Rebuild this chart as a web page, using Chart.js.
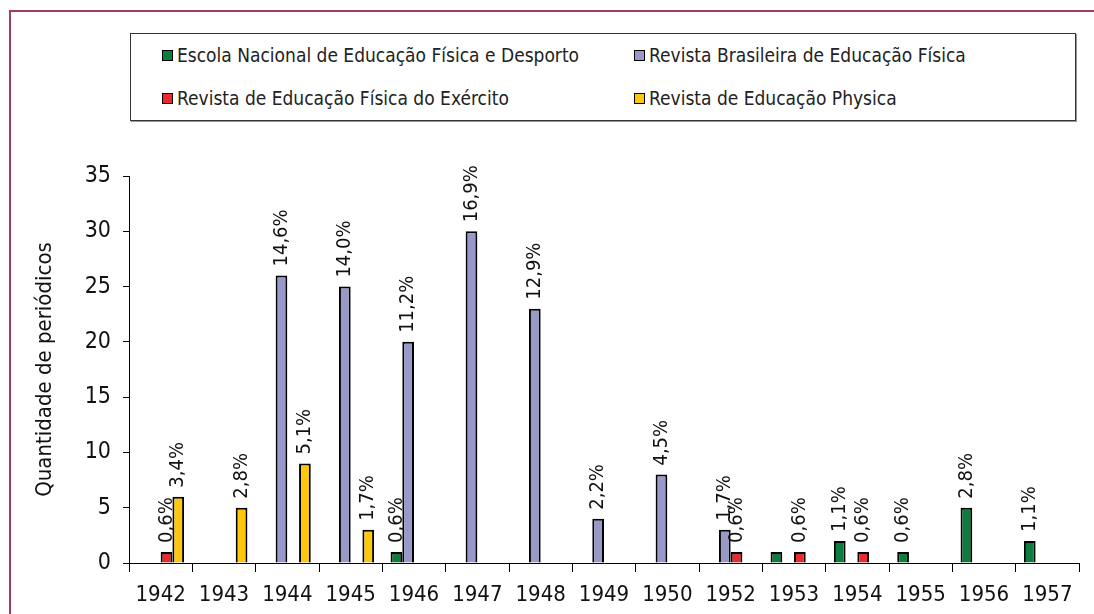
<!DOCTYPE html>
<html lang="pt">
<head>
<meta charset="utf-8">
<script src="https://cdn.jsdelivr.net/npm/chart.js@4"></script>
<style>
  html, body { margin: 0; padding: 0; background: #fff; }
  body { width: 1094px; height: 614px; position: relative; overflow: hidden;
         font-family: 'Liberation Sans Narrow', 'Arial Narrow', 'DejaVu Sans Condensed', sans-serif; }
  #moldura { position: absolute; left: 9px; top: 10px; width: 1100px; height: 620px;
             border-left: 2px solid #9e3d64; border-top: 2px solid #9e3d64; }
  #legenda { position: absolute; left: 130px; top: 33px; width: 944px; height: 86px;
             border: 1px solid #333; box-shadow: 1px 1px 0 #999; }
  .item { position: absolute; font-size: 19px; color: #222; line-height: 20px; white-space: nowrap; }
  .item span { display: inline-block; width: 9px; height: 9px; border: 1px solid #000;
               margin-right: 4px; vertical-align: 1px; }
  #grafico { position: absolute; left: 0; top: 0; }
</style>
</head>
<body>
<div id="moldura"></div>
<div id="legenda"></div>
<canvas id="grafico" width="1094" height="614"></canvas>
<script>
// Anos (categorias do eixo x)
const anos = ['1942', '1943', '1944', '1945', '1946', '1947', '1948', '1949', '1950',
              '1952', '1953', '1954', '1955', '1956', '1957'];

// Quantidade de periódicos por série
const escolaNacional = [null, null, null, null, 1, null, null, null, null, null, 1, 2, 1, 5, 2];
const revistaBrasileira = [null, null, 26, 25, 20, 30, 23, 4, 8, 3, null, null, null, null, null];
const revistaExercito = [1, null, null, null, null, null, null, null, null, 1, 1, 1, null, null, null];
const revistaPhysica = [6, 5, 9, 3, null, null, null, null, null, null, null, null, null, null, null];

// Rótulos percentuais de cada barra
const rotEscola = ['', '', '', '', '0,6%', '', '', '', '', '', '', '1,1%', '0,6%', '2,8%', '1,1%'];
const rotBrasileira = ['', '', '14,6%', '14,0%', '11,2%', '16,9%', '12,9%', '2,2%', '4,5%', '1,7%', '', '', '', '', ''];
const rotExercito = ['0,6%', '', '', '', '', '', '', '', '', '0,6%', '0,6%', '0,6%', '', '', ''];
const rotPhysica = ['3,4%', '2,8%', '5,1%', '1,7%', '', '', '', '', '', '', '', '', '', '', ''];

const nomes = [
    'Escola Nacional de Educação Física e Desporto',
    'Revista Brasileira de Educação Física',
    'Revista de Educação Física do Exército',
    'Revista de Educação Physica'
];
const cores = ['#0b7d3e', '#9898c9', '#ec2a2e', '#fcc70c'];

const fonte = "'Liberation Sans Narrow', 'Arial Narrow', 'DejaVu Sans Condensed', sans-serif";

// Legenda em caixa, duas colunas
const posLegenda = [[31, 11], [503, 11], [31, 54], [503, 54]];
const leg = document.getElementById('legenda');
nomes.forEach((n, i) => {
    const d = document.createElement('div');
    d.className = 'item';
    d.style.left = posLegenda[i][0] + 'px';
    d.style.top = posLegenda[i][1] + 'px';
    d.innerHTML = '<span style="background:' + cores[i] + '"></span>' + n;
    leg.appendChild(d);
});

// Plugin simples para os rótulos verticais acima das barras
const rotulosPlugin = {
    id: 'rotulos',
    afterDatasetsDraw(chart) {
        const ctx = chart.ctx;
        ctx.save();
        ctx.font = '20px ' + fonte;
        ctx.fillStyle = '#111';
        ctx.textAlign = 'left';
        ctx.textBaseline = 'middle';
        chart.data.datasets.forEach((ds, i) => {
            const meta = chart.getDatasetMeta(i);
            meta.data.forEach((bar, j) => {
                const txt = ds.rotulos[j];
                if (!txt || ds.data[j] == null) return;
                ctx.save();
                ctx.translate(bar.x, bar.y - 9);
                ctx.rotate(-Math.PI / 2);
                ctx.fillText(txt, 0, 0);
                ctx.restore();
            });
        });
        ctx.restore();
    }
};

const ctx = document.getElementById('grafico').getContext('2d');

new Chart(ctx, {
    type: 'bar',
    data: {
        labels: anos,
        datasets: [
            { label: nomes[0], data: escolaNacional, rotulos: rotEscola, backgroundColor: cores[0] },
            { label: nomes[1], data: revistaBrasileira, rotulos: rotBrasileira, backgroundColor: cores[1] },
            { label: nomes[2], data: revistaExercito, rotulos: rotExercito, backgroundColor: cores[2] },
            { label: nomes[3], data: revistaPhysica, rotulos: rotPhysica, backgroundColor: cores[3] }
        ]
    },
    options: {
        responsive: false,
        animation: false,
        datasets: {
            bar: {
                borderColor: '#000',
                borderWidth: 2,
                categoryPercentage: 0.74,
                barPercentage: 1.0
            }
        },
        layout: { padding: { left: 30, top: 176, right: 15, bottom: 0 } },
        plugins: {
            legend: { display: false },
            tooltip: { enabled: false }
        },
        scales: {
            x: {
                grid: { display: true, offset: true, drawOnChartArea: false, tickLength: 9, color: '#000' },
                border: { display: true, color: '#000', width: 1 },
                ticks: { color: '#111', font: { family: fonte, size: 22 }, padding: 10, maxRotation: 0 },
                afterFit: (scale) => { scale.height = 51; }
            },
            y: {
                min: 0,
                max: 35,
                ticks: { stepSize: 5, color: '#111', font: { family: fonte, size: 23 }, padding: 12 },
                grid: { display: true, drawOnChartArea: false, tickLength: 6, color: '#000' },
                border: { display: true, color: '#000', width: 1 },
                title: {
                    display: true,
                    text: 'Quantidade de periódicos',
                    color: '#111',
                    font: { family: fonte, size: 22 },
                    padding: { top: 2, bottom: 0 }
                },
                afterFit: (scale) => { scale.width = 99; }
            }
        }
    },
    plugins: [rotulosPlugin]
});
</script>
</body>
</html>
